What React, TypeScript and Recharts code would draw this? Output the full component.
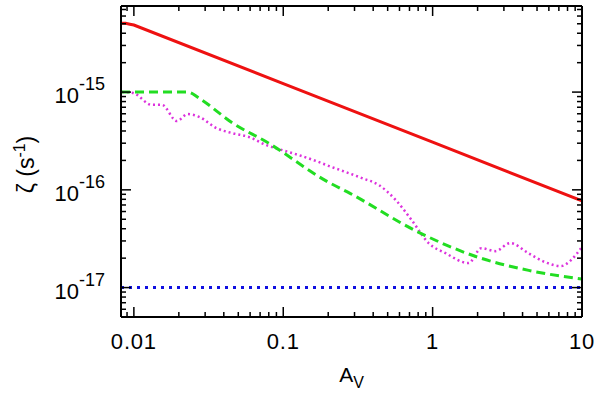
import { LineChart, Line, XAxis, YAxis } from "recharts";

// ionisation rates vs. visual extinction (log-log)
const redSeries = [
	{ x: 0.0082, y: 5.05e-15 },
	{ x: 0.0088, y: 5.05e-15 },
	{ x: 0.0094, y: 4.95e-15 },
	{ x: 0.01, y: 4.86e-15 },
	{ x: 0.1, y: 1.22e-15 },
	{ x: 1, y: 3.07e-16 },
	{ x: 10, y: 7.7e-17 },
];

const greenSeries = [
	{ x: 0.0082, y: 1e-15 },
	{ x: 0.023, y: 1e-15 },
	{ x: 0.0275, y: 8.6e-16 },
	{ x: 0.046, y: 4.8e-16 },
	{ x: 0.077, y: 3.1e-16 },
	{ x: 0.2, y: 1.2e-16 },
	{ x: 0.28, y: 9.2e-17 },
	{ x: 0.8, y: 3.7e-17 },
	{ x: 2, y: 2.05e-17 },
	{ x: 4.4, y: 1.5e-17 },
	{ x: 10, y: 1.22e-17 },
];

const magentaSeries = [
	{ x: 0.0083, y: 1e-15 },
	{ x: 0.00985, y: 9.8e-16 },
	{ x: 0.0132, y: 7.4e-16 },
	{ x: 0.0154, y: 7.4e-16 },
	{ x: 0.0194, y: 5.05e-16 },
	{ x: 0.0229, y: 5.96e-16 },
	{ x: 0.0275, y: 5.55e-16 },
	{ x: 0.0357, y: 4.28e-16 },
	{ x: 0.0457, y: 3.8e-16 },
	{ x: 0.0593, y: 3.46e-16 },
	{ x: 0.077, y: 2.87e-16 },
	{ x: 0.0985, y: 2.55e-16 },
	{ x: 0.128, y: 2.26e-16 },
	{ x: 0.166, y: 1.97e-16 },
	{ x: 0.203, y: 1.75e-16 },
	{ x: 0.275, y: 1.48e-16 },
	{ x: 0.336, y: 1.32e-16 },
	{ x: 0.436, y: 1.12e-16 },
	{ x: 0.567, y: 7.85e-17 },
	{ x: 0.724, y: 4.9e-17 },
	{ x: 0.94, y: 2.85e-17 },
	{ x: 1.22, y: 2.25e-17 },
	{ x: 1.74, y: 1.78e-17 },
	{ x: 2.12, y: 2.53e-17 },
	{ x: 2.63, y: 2.36e-17 },
	{ x: 3.31, y: 2.85e-17 },
	{ x: 4.37, y: 2.25e-17 },
	{ x: 5.67, y: 1.82e-17 },
	{ x: 7.24, y: 1.66e-17 },
	{ x: 8.45, y: 1.91e-17 },
	{ x: 9.85, y: 2.53e-17 },
];

const blueSeries = [
	{ x: 0.0082, y: 1e-17 },
	{ x: 10, y: 1e-17 },
];

const xDomain = [0.0082, 10];
const yDomain = [5e-18, 7.6e-15];

const xMajor = [0.01, 0.1, 1, 10];
const xMinor = [
	0.009, 0.02, 0.03, 0.04, 0.05, 0.06, 0.07, 0.08, 0.09, 0.2, 0.3, 0.4, 0.5,
	0.6, 0.7, 0.8, 0.9, 2, 3, 4, 5, 6, 7, 8, 9,
];
const xLabels: Record<string, string> = {
	"0.01": "0.01",
	"0.1": "0.1",
	"1": "1",
	"10": "10",
};

const yMajor = [1e-17, 1e-16, 1e-15];
const yMinor = [
	6e-18, 7e-18, 8e-18, 9e-18, 2e-17, 3e-17, 4e-17, 5e-17, 6e-17, 7e-17, 8e-17,
	9e-17, 2e-16, 3e-16, 4e-16, 5e-16, 6e-16, 7e-16, 8e-16, 9e-16, 2e-15, 3e-15,
	4e-15, 5e-15, 6e-15, 7e-15,
];
const yExponents: Record<string, string> = {
	"1e-17": "-17",
	"1e-16": "-16",
	"1e-15": "-15",
};

const FONT = "'Liberation Sans', Arial, Helvetica, sans-serif";
const MAJOR = 10;
const MINOR = 5;

const isMajor = (list: number[], v: number) =>
	list.some((m) => Math.abs(m - v) / m < 1e-6);

function BottomTick(props: any) {
	const { x, y, payload } = props;
	const major = isMajor(xMajor, payload.value);
	return (
		<g>
			<line
				x1={x}
				x2={x}
				y1={y}
				y2={y - (major ? MAJOR : MINOR)}
				stroke="#000"
				strokeWidth={1.5}
			/>
			{major && (
				<text
					x={x}
					y={y + 32}
					textAnchor="middle"
					fontSize={22}
					letterSpacing={0.8}
					fontFamily={FONT}
					fill="#000"
				>
					{xLabels[String(payload.value)]}
				</text>
			)}
		</g>
	);
}

function TopTick(props: any) {
	const { x, y, payload } = props;
	const major = isMajor(xMajor, payload.value);
	return (
		<line
			x1={x}
			x2={x}
			y1={y}
			y2={y + (major ? MAJOR : MINOR)}
			stroke="#000"
			strokeWidth={1.5}
		/>
	);
}

function LeftTick(props: any) {
	const { x, y, payload } = props;
	const major = isMajor(yMajor, payload.value);
	return (
		<g>
			<line
				x1={x}
				x2={x + (major ? MAJOR : MINOR)}
				y1={y}
				y2={y}
				stroke="#000"
				strokeWidth={1.5}
			/>
			{major && (
				<text
					x={x - 16}
					y={y + 11}
					textAnchor="end"
					fontSize={22}
					fontFamily={FONT}
					fill="#000"
				>
					<tspan>10</tspan>
					<tspan dy={-13} fontSize={18}>
						{yExponents[payload.value.toExponential().replace("+", "")] ??
							""}
					</tspan>
				</text>
			)}
		</g>
	);
}

function RightTick(props: any) {
	const { x, y, payload } = props;
	const major = isMajor(yMajor, payload.value);
	return (
		<line
			x1={x}
			x2={x - (major ? MAJOR : MINOR)}
			y1={y}
			y2={y}
			stroke="#000"
			strokeWidth={1.5}
		/>
	);
}

const renderYLabel = (props: any) => {
	const vb = props.viewBox;
	const cx = vb.x + 34;
	const cy = vb.y + vb.height / 2 + 3;
	return (
		<text
			x={cx}
			y={cy}
			transform={`rotate(-90, ${cx}, ${cy})`}
			textAnchor="middle"
			fontSize={23}
			fontFamily={FONT}
			fill="#000"
		>
			<tspan>ζ (s</tspan>
			<tspan dy={-9} fontSize={16}>
				-1
			</tspan>
			<tspan dy={9}>)</tspan>
		</text>
	);
};

const renderXLabel = (props: any) => {
	const vb = props.viewBox;
	const cx = vb.x + vb.width / 2;
	return (
		<text
			x={cx}
			y={vb.y + 65}
			textAnchor="middle"
			fontSize={21}
			fontFamily={FONT}
			fill="#000"
		>
			<tspan>A</tspan>
			<tspan dy={6} fontSize={16}>
				V
			</tspan>
		</text>
	);
};

const frame = { stroke: "#000", strokeWidth: 2 };

export default function App() {
	return (
		<div
			style={{
				position: "absolute",
				left: 0,
				top: 0,
				width: 600,
				height: 393,
				background: "#fff",
			}}
		>
			<LineChart
				width={600}
				height={393}
				margin={{ top: 0, right: 0, bottom: 0, left: 0 }}
			>
				<XAxis
					xAxisId="bottom"
					type="number"
					dataKey="x"
					scale="log"
					domain={xDomain}
					allowDataOverflow
					ticks={[...xMajor, ...xMinor]}
					interval={0}
					tick={<BottomTick />}
					tickSize={0}
					tickMargin={0}
					tickLine={false}
					axisLine={frame}
					height={76}
					label={{ content: renderXLabel }}
				/>
				<XAxis
					xAxisId="top"
					orientation="top"
					type="number"
					dataKey="x"
					scale="log"
					domain={xDomain}
					allowDataOverflow
					ticks={[...xMajor, ...xMinor]}
					interval={0}
					tick={<TopTick />}
					tickSize={0}
					tickMargin={0}
					tickLine={false}
					axisLine={frame}
					height={6}
				/>
				<YAxis
					yAxisId="left"
					type="number"
					scale="log"
					domain={yDomain}
					allowDataOverflow
					ticks={[...yMajor, ...yMinor]}
					interval={0}
					tick={<LeftTick />}
					tickSize={0}
					tickMargin={0}
					tickLine={false}
					axisLine={frame}
					width={121}
					label={{ content: renderYLabel }}
				/>
				<YAxis
					yAxisId="right"
					orientation="right"
					type="number"
					scale="log"
					domain={yDomain}
					allowDataOverflow
					ticks={[...yMajor, ...yMinor]}
					interval={0}
					tick={<RightTick />}
					tickSize={0}
					tickMargin={0}
					tickLine={false}
					axisLine={frame}
					width={18}
				/>
				<Line
					xAxisId="bottom"
					yAxisId="left"
					data={blueSeries}
					dataKey="y"
					type="linear"
					stroke="#1010e0"
					strokeWidth={3}
					strokeDasharray="3 5"
					dot={false}
					isAnimationActive={false}
				/>
				<Line
					xAxisId="bottom"
					yAxisId="left"
					data={magentaSeries}
					dataKey="y"
					type="monotone"
					stroke="#dd33dd"
					strokeWidth={2.5}
					strokeDasharray="2 3"
					dot={false}
					isAnimationActive={false}
				/>
				<Line
					xAxisId="bottom"
					yAxisId="left"
					data={greenSeries}
					dataKey="y"
					type="monotone"
					stroke="#22dd22"
					strokeWidth={3}
					strokeDasharray="9 5"
					dot={false}
					isAnimationActive={false}
				/>
				<Line
					xAxisId="bottom"
					yAxisId="left"
					data={redSeries}
					dataKey="y"
					type="linear"
					stroke="#ee1111"
					strokeWidth={3}
					dot={false}
					isAnimationActive={false}
				/>
			</LineChart>
		</div>
	);
}
